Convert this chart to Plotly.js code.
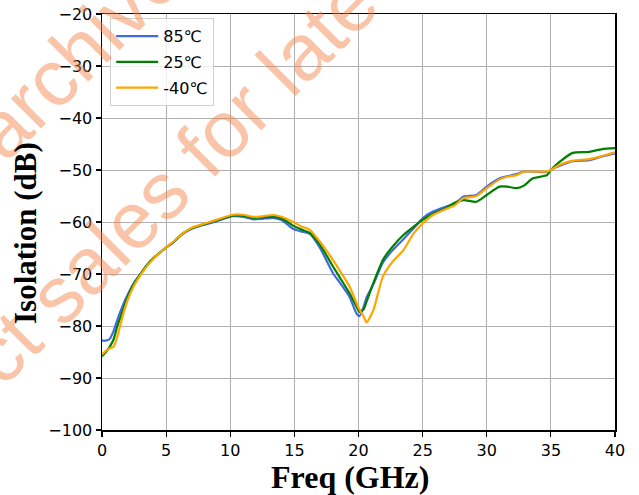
<!DOCTYPE html>
<html>
<head>
<meta charset="utf-8">
<script src="https://cdn.plot.ly/plotly-3.0.1.min.js"></script>
<style>html,body{margin:0;padding:0;background:#fff;}#chart{width:639px;height:495px;}</style>
</head>
<body>
<div id="chart"></div>
<script>
const freq = [0, 0.3, 0.6, 0.9, 1.2, 1.6, 2, 2.5, 3, 3.5, 4, 4.8, 5.5, 6.3, 7, 7.6, 8.9, 10.2, 11, 11.8, 12.5, 13.3, 14, 14.9, 15.5, 16.2, 17, 18, 18.5, 19.3, 19.85, 20.07, 20.4, 20.63, 21.15, 21.9, 22.6, 23.5, 24.3, 25, 25.8, 26.9, 27.5, 28.2, 29.2, 30, 31, 31.6, 32.3, 32.9, 33.6, 34.7, 35, 35.7, 36.7, 38, 39, 40];

const iso85 = [-82.8, -82.8, -82.5, -81, -78.8, -76.2, -74, -71.7, -70, -68.3, -67, -65.3, -64, -62.3, -61.3, -60.8, -59.9, -58.9, -59, -59.5, -59.4, -59.2, -59.6, -61.3, -61.8, -62.3, -65, -69.8, -71.5, -74.4, -77.6, -78.1, -76.3, -74.5, -72, -67.8, -65.6, -63.3, -61.2, -59.3, -58, -57, -56.5, -55.1, -54.8, -53.2, -51.6, -51.2, -50.8, -50.3, -50.3, -50.4, -50, -49.2, -48.3, -48.1, -47.4, -46.8];

const iso25 = [-85.8, -85, -84, -82.6, -80, -77.2, -74.4, -71.8, -70, -68.3, -67, -65.3, -64, -62.2, -61.2, -60.7, -59.7, -58.8, -58.8, -59.2, -59.1, -59, -59.3, -60.7, -61.4, -62.1, -64.4, -68.5, -70.5, -73.7, -76.3, -77.3, -76.8, -75.3, -71.8, -67.3, -64.9, -62.5, -60.9, -59.6, -58.4, -57.2, -56.3, -55.8, -56.1, -54.8, -53.2, -53.2, -53.5, -53, -51.6, -51, -50, -48.4, -46.7, -46.5, -46, -45.8];

const isoM40 = [-85.5, -84.8, -84.3, -84, -82, -78.2, -75, -72.2, -70.2, -68.5, -67.1, -65.3, -63.9, -62.2, -61.1, -60.6, -59.6, -58.6, -58.6, -59, -58.9, -58.65, -59, -60, -60.8, -61.5, -63.8, -67.3, -69.2, -72.4, -75.6, -76.8, -78.2, -79.3, -77, -70.5, -67.8, -65.4, -62.2, -60.3, -58.65, -57.4, -56.8, -55.4, -55, -53.5, -51.8, -51.3, -51, -50.3, -50.3, -50.3, -50, -49, -48.2, -47.9, -47.3, -46.6];

const seriesNames = ['85\u2103', '25\u2103', '-40\u2103'];
const xTicks = [0, 5, 10, 15, 20, 25, 30, 35, 40];
const yTicks = [-100, -90, -80, -70, -60, -50, -40, -30, -20];
const yTickText = yTicks.map(v => v < 0 ? '\u2212' + Math.abs(v) : String(v));
const xTitle = 'Freq (GHz)';
const yTitle = 'Isolation (dB)';

const colors = ['#4169e1', '#008000', '#ffa500'];
const ys = [iso85, iso25, isoM40];

const traces = ys.map((y, i) => ({
  x: freq, y: y, type: 'scatter', mode: 'lines', name: seriesNames[i],
  legendgroup: 'g' + i,
  line: {color: colors[i], width: 2.2, shape: 'spline', smoothing: 0.6}
}));

const wmColor = 'rgba(242,130,70,0.47)';
const px = v => (v - 102) / 513;
const py = v => (430 - v) / 416;
const serif = 'Liberation Serif, Times New Roman, serif';
const layout = {
  width: 639, height: 495,
  margin: {l: 102, r: 24, t: 14, b: 65},
  paper_bgcolor: '#fff', plot_bgcolor: '#fff',
  font: {family: 'DejaVu Sans, sans-serif', size: 16, color: '#000'},
  xaxis: {
    range: [0, 40], tickvals: xTicks, ticktext: xTicks.map(String),
    showgrid: true, gridcolor: '#b0b0b0', gridwidth: 1,
    showline: true, linecolor: '#000', linewidth: 1.5, mirror: true,
    ticks: 'outside', ticklen: 5, tickwidth: 1.2, tickcolor: '#000',
    zeroline: false
  },
  yaxis: {
    range: [-100, -20], tickvals: yTicks, ticktext: yTickText,
    showgrid: true, gridcolor: '#b0b0b0', gridwidth: 1,
    showline: true, linecolor: '#000', linewidth: 1.5, mirror: true,
    ticks: 'outside', ticklen: 5, tickwidth: 1.2, tickcolor: '#000',
    zeroline: false
  },
  legend: {
    x: 0.016, y: 0.99, xanchor: 'left', yanchor: 'top',
    bgcolor: 'rgba(255,255,255,0.8)', bordercolor: '#d0d0d0', borderwidth: 1,
    itemwidth: 42, tracegroupgap: 2,
    font: {size: 16, family: 'DejaVu Sans, sans-serif'}
  },
  annotations: [
    {text: 'archive', xref: 'paper', yref: 'paper', x: px(77), y: py(53), xanchor: 'center', yanchor: 'middle',
     showarrow: false, textangle: -45, font: {family: 'Liberation Sans, Arial, sans-serif', size: 80, color: wmColor}},
    {text: 'ct sales for late', xref: 'paper', yref: 'paper', x: px(173), y: py(179), xanchor: 'center', yanchor: 'middle',
     showarrow: false, textangle: -45, font: {family: 'Liberation Sans, Arial, sans-serif', size: 80, color: wmColor}},
    {text: xTitle, xref: 'paper', yref: 'paper', x: px(349.5), y: py(477), xanchor: 'center', yanchor: 'middle',
     showarrow: false, font: {family: serif, size: 32, color: '#000', weight: 'bold'}},
    {text: yTitle, xref: 'paper', yref: 'paper', x: px(25), y: py(233), xanchor: 'center', yanchor: 'middle',
     showarrow: false, textangle: -90, font: {family: serif, size: 31, color: '#000', weight: 'bold'}}
  ],
  showlegend: true
};

Plotly.newPlot('chart', traces, layout, {displayModeBar: false, staticPlot: true});
</script>
</body>
</html>
